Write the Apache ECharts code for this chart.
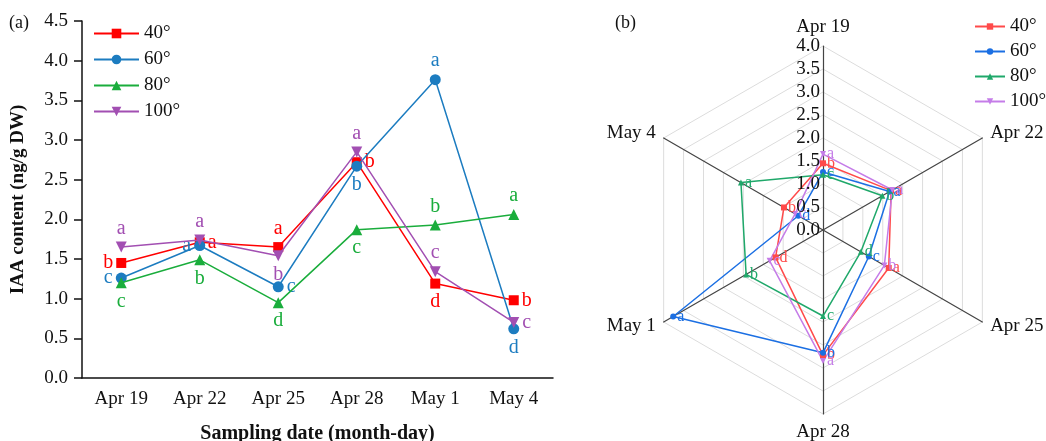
<!DOCTYPE html>
<html><head><meta charset="utf-8">
<script src="https://cdn.jsdelivr.net/npm/echarts@6/dist/echarts.min.js"></script>
<style>html,body{margin:0;padding:0;background:#fff}#c{width:1046px;height:441px}</style>
</head><body><div id="c"></div>
<script>
const categories = ['Apr 19','Apr 22','Apr 25','Apr 28','May 1','May 4'];
const seriesNames = ['40°','60°','80°','100°'];
const v40  = [1.45, 1.71, 1.65, 2.72, 1.19, 0.98];
const v60  = [1.26, 1.67, 1.15, 2.67, 3.76, 0.62];
const v80  = [1.20, 1.49, 0.95, 1.87, 1.93, 2.06];
const v100 = [1.65, 1.74, 1.54, 2.85, 1.34, 0.70];
const let40  = ['b','a','a','b','d','b'];
const let60  = ['c','a','c','b','a','d'];
const let80  = ['c','b','d','c','b','a'];
const let100 = ['a','a','b','a','c','c'];
const yTicks = [0,0.5,1,1.5,2,2.5,3,3.5,4,4.5];
const radarTicks = [0,0.5,1,1.5,2,2.5,3,3.5,4];

// styling / layout (not data)
const labelPos = [
  ['left','right','top','right','bottom','right'],
  ['left','left','right','bottom','top','bottom'],
  ['bottom','bottom','bottom','bottom','top','top'],
  ['top','top','bottom','top','top','right']
];
const lineColors = ['#ff0000','#1c7cc0','#1aad3c','#a24fb2'];
const radarColors = ['#ff4a4a','#1b6fe3','#1fa86a','#c57ce8'];
const symbols = ['rect','circle','triangle','triangle'];
const rotations = [0,0,0,180];
const FONT = 'Liberation Serif';

const values = [v40, v60, v80, v100];
const letters = [let40, let60, let80, let100];

const chart = echarts.init(document.getElementById('c'), null, {renderer:'canvas'});

const lineSeries = values.map((vals, s) => ({
  type: 'line',
  name: seriesNames[s],
  xAxisIndex: 0, yAxisIndex: 0,
  symbol: symbols[s],
  symbolRotate: rotations[s],
  symbolSize: s === 0 ? 10 : 11,
  color: lineColors[s],
  lineStyle: {width: 1.5, color: lineColors[s]},
  itemStyle: {color: lineColors[s]},
  z: 5 + s,
  data: vals.map((v, i) => ({
    value: v,
    label: {
      show: true, formatter: letters[s][i], position: labelPos[s][i], distance: 3,
      color: lineColors[s], fontFamily: FONT, fontSize: 20
    }
  }))
}));

// empty line series only used to give the radar legend line+marker icons
const radarLegendSeries = seriesNames.map((n, s) => ({
  type: 'line', name: 'r' + n, xAxisIndex: 1, yAxisIndex: 1, data: [],
  symbol: symbols[s], symbolRotate: rotations[s], symbolSize: 7,
  color: radarColors[s], lineStyle: {width: 1.5, color: radarColors[s]}, itemStyle: {color: radarColors[s]}
}));

// radar indicators are placed counter-clockwise from top in ECharts; reorder so that
// the chart reads clockwise: Apr 19, Apr 22, Apr 25, Apr 28, May 1, May 4
const radarOrder = [0,5,4,3,2,1];

const radarSeries = {
  type: 'radar',
  radarIndex: 0,
  symbolSize: 6,
  z: 5,
  data: values.map((vals, s) => ({
    name: 'p' + seriesNames[s],
    value: radarOrder.map(i => vals[i]),
    symbol: symbols[s],
    symbolRotate: rotations[s],
    lineStyle: {width: 1.5, color: radarColors[s]},
    itemStyle: {color: radarColors[s]},
    label: {
      show: true, position: 'right', distance: 1, color: radarColors[s], fontFamily: FONT, fontSize: 16,
      formatter: p => letters[s][radarOrder[p.dimensionIndex]]
    }
  }))
};

const option = {
  animation: false,
  textStyle: {fontFamily: FONT, color: '#111'},
  title: [
    {text: '(a)', left: 4, top: 9, textStyle: {fontFamily: FONT, fontSize: 18, fontWeight: 'normal', color: '#111'}},
    {text: '(b)', left: 610, top: 9, textStyle: {fontFamily: FONT, fontSize: 18, fontWeight: 'normal', color: '#111'}}
  ],
  legend: [
    {
      data: seriesNames, orient: 'vertical', left: 88, top: 19, itemWidth: 45, itemHeight: 12, itemGap: 7,
      textStyle: {fontFamily: FONT, fontSize: 19, color: '#111'}, selectedMode: false
    },
    {
      data: seriesNames.map(n => 'r' + n), orient: 'vertical', left: 969, top: 12, itemWidth: 30, itemHeight: 8, itemGap: 6,
      formatter: n => n.slice(1),
      textStyle: {fontFamily: FONT, fontSize: 19, color: '#111'}, selectedMode: false
    }
  ],
  grid: [
    {left: 82, top: 21, width: 471, height: 357, containLabel: false, outerBoundsMode: 'none'},
    {left: 823, top: 46, width: 1, height: 184, containLabel: false, outerBoundsMode: 'none'}
  ],
  xAxis: [
    {
      type: 'category', gridIndex: 0, data: categories, boundaryGap: true,
      axisLine: {lineStyle: {color: '#111', width: 1.5}},
      axisTick: {alignWithLabel: true, length: 7, lineStyle: {color: '#111', width: 1.5}},
      axisLabel: {fontFamily: FONT, fontSize: 19, color: '#111', margin: 12},
      name: 'Sampling date (month-day)', nameLocation: 'middle', nameGap: 46,
      nameTextStyle: {fontFamily: FONT, fontSize: 20, fontWeight: 'bold', color: '#111'}
    },
    {type: 'value', gridIndex: 1, show: false, min: 0, max: 1}
  ],
  yAxis: [
    {
      type: 'value', gridIndex: 0, min: yTicks[0], max: yTicks[yTicks.length-1], interval: 0.5,
      axisLine: {show: true, lineStyle: {color: '#111', width: 1.5}},
      axisTick: {show: true, length: 8, lineStyle: {color: '#111', width: 1.5}},
      splitLine: {show: false},
      axisLabel: {fontFamily: FONT, fontSize: 19, color: '#111', margin: 14, formatter: v => v.toFixed(1)},
      name: 'IAA content (ng/g DW)', nameLocation: 'middle', nameGap: 54,
      nameTextStyle: {fontFamily: FONT, fontSize: 19, fontWeight: 'bold', color: '#111'}
    },
    {
      type: 'value', gridIndex: 1, min: radarTicks[0], max: radarTicks[radarTicks.length-1], interval: 0.5,
      axisLine: {show: false},
      axisTick: {show: false},
      splitLine: {show: false},
      axisLabel: {fontFamily: FONT, fontSize: 19, color: '#111', margin: 3, formatter: v => v.toFixed(1)},
      z: 10
    }
  ],
  radar: {
    center: [823, 230], radius: 184, startAngle: 90, shape: 'polygon', splitNumber: 8,
    indicator: radarOrder.map(i => ({name: categories[i], min: 0, max: 4})),
    axisName: {fontFamily: FONT, fontSize: 19, color: '#111'},
    nameGap: 9,
    axisLine: {lineStyle: {color: '#444', width: 1.2}},
    splitLine: {lineStyle: {color: '#dcdcdc', width: 1}},
    splitArea: {show: false},
    axisTick: {show: false},
    axisLabel: {show: false}
  },
  series: [...lineSeries, ...radarLegendSeries, radarSeries]
};
chart.setOption(option);
</script></body></html>
